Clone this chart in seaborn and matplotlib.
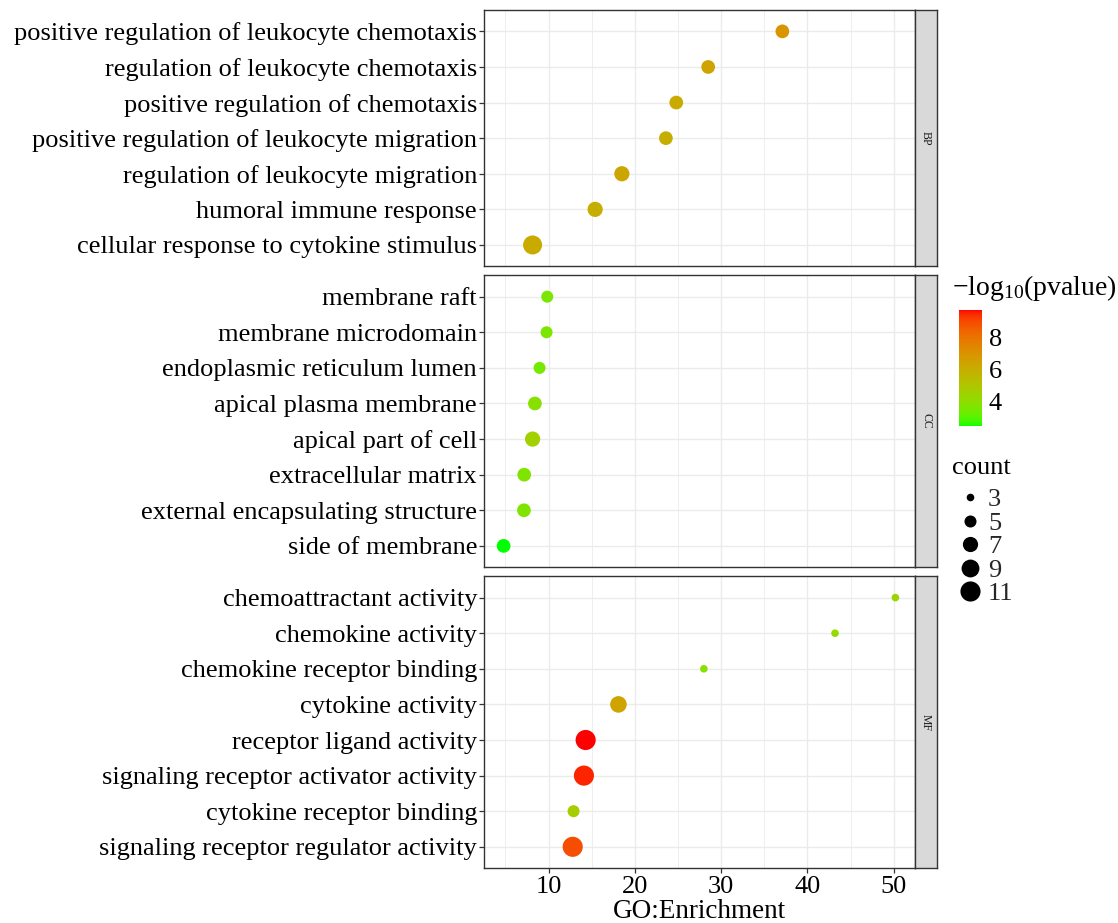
import numpy as np
import pandas as pd
import matplotlib
matplotlib.use("Agg")
import matplotlib.pyplot as plt
from matplotlib.colors import ListedColormap, Normalize
from matplotlib.lines import Line2D
from matplotlib.ticker import MultipleLocator
import seaborn as sns

# ---------------- data (listed top-to-bottom as displayed) ----------------
bp_terms = ["positive regulation of leukocyte chemotaxis",
            "regulation of leukocyte chemotaxis",
            "positive regulation of chemotaxis",
            "positive regulation of leukocyte migration",
            "regulation of leukocyte migration",
            "humoral immune response",
            "cellular response to cytokine stimulus"]
bp_enrich = [37.1, 28.5, 24.8, 23.6, 18.5, 15.4, 8.15]
bp_count = [6, 6, 6, 6, 7, 7, 10]
bp_logp = [6.9, 6.4, 6.1, 6.0, 6.3, 6.0, 6.1]

cc_terms = ["membrane raft",
            "membrane microdomain",
            "endoplasmic reticulum lumen",
            "apical plasma membrane",
            "apical part of cell",
            "extracellular matrix",
            "external encapsulating structure",
            "side of membrane"]
cc_enrich = [9.85, 9.77, 8.96, 8.42, 8.15, 7.18, 7.15, 4.79]
cc_count = [5, 5, 5, 6, 7, 6, 6, 6]
cc_logp = [3.6, 3.6, 3.5, 3.9, 4.6, 3.7, 3.7, 2.5]

mf_terms = ["chemoattractant activity",
            "chemokine activity",
            "chemokine receptor binding",
            "cytokine activity",
            "receptor ligand activity",
            "signaling receptor activator activity",
            "cytokine receptor binding",
            "signaling receptor regulator activity"]
mf_enrich = [50.2, 43.2, 28.0, 18.1, 14.3, 14.1, 12.9, 12.8]
mf_count = [3, 3, 3, 8, 11, 11, 5, 11]
mf_logp = [4.4, 4.2, 3.9, 6.4, 9.7, 9.5, 4.7, 8.9]

facets = ["BP", "CC", "MF"]
count_breaks = [3, 5, 7, 9, 11]
color_breaks = [4, 6, 8]

# ---------------- style ----------------
sns.set_theme(style="white")
plt.rcParams["font.family"] = ["Liberation Serif", "DejaVu Serif"]
plt.rcParams["mathtext.fontset"] = "custom"
plt.rcParams["mathtext.rm"] = "Liberation Serif"
plt.rcParams["mathtext.it"] = "Liberation Serif:italic"

FS = 19


# ---------------- Lab-interpolated green->red gradient (like ggplot) ----------------
def _srgb_to_lab(rgb):
    rgb = np.asarray(rgb, float)
    lin = np.where(rgb <= 0.04045, rgb / 12.92, ((rgb + 0.055) / 1.055) ** 2.4)
    M = np.array([[0.4124564, 0.3575761, 0.1804375],
                  [0.2126729, 0.7151522, 0.0721750],
                  [0.0193339, 0.1191920, 0.9503041]])
    xyz = M @ lin
    xyz = xyz / np.array([0.95047, 1.0, 1.08883])
    f = np.where(xyz > 0.008856, np.cbrt(xyz), 7.787 * xyz + 16 / 116)
    return np.array([116 * f[1] - 16, 500 * (f[0] - f[1]), 200 * (f[1] - f[2])])


def _lab_to_srgb(lab):
    L, a, b = lab
    fy = (L + 16) / 116
    fx = fy + a / 500
    fz = fy - b / 200
    f = np.array([fx, fy, fz])
    xyz = np.where(f ** 3 > 0.008856, f ** 3, (f - 16 / 116) / 7.787)
    xyz = xyz * np.array([0.95047, 1.0, 1.08883])
    Minv = np.array([[3.2404542, -1.5371385, -0.4985314],
                     [-0.9692660, 1.8760108, 0.0415560],
                     [0.0556434, -0.2040259, 1.0572252]])
    lin = np.clip(Minv @ xyz, 0, 1)
    rgb = np.where(lin <= 0.0031308, 12.92 * lin, 1.055 * lin ** (1 / 2.4) - 0.055)
    return np.clip(rgb, 0, 1)


lab_lo = _srgb_to_lab([0.0, 1.0, 0.0])
lab_hi = _srgb_to_lab([1.0, 0.0, 0.0])
cmap = ListedColormap([_lab_to_srgb(lab_lo + (lab_hi - lab_lo) * t)
                       for t in np.linspace(0, 1, 256)])

all_logp = bp_logp + cc_logp + mf_logp
all_enrich = bp_enrich + cc_enrich + mf_enrich
cnorm = Normalize(vmin=min(all_logp), vmax=max(all_logp))

S_MIN, S_MAX = 30, 210
size_norm = (3, 11)


def size_of(c):
    return S_MIN + (S_MAX - S_MIN) * (c - size_norm[0]) / (size_norm[1] - size_norm[0])


# x limits with ggplot-like 5% expansion
xr = max(all_enrich) - min(all_enrich)
xlim = (min(all_enrich) - 0.05 * xr, max(all_enrich) + 0.05 * xr)

# ---------------- figure ----------------
W, H = 1118, 923
fig = plt.figure(figsize=(W / 100, H / 100), dpi=100)

left_px, right_px, strip_px = 484, 915, 937
unit = 35.6
gap = 9
top_px = 10
panels = [(bp_terms, bp_enrich, bp_count, bp_logp),
          (cc_terms, cc_enrich, cc_count, cc_logp),
          (mf_terms, mf_enrich, mf_count, mf_logp)]

y_cur = top_px
axes = []
for i, (terms, enr, cnt, lp) in enumerate(panels):
    n = len(terms)
    h_px = (n - 1 + 1.2) * unit
    rect = [left_px / W, 1 - (y_cur + h_px) / H, (right_px - left_px) / W, h_px / H]
    ax = fig.add_axes(rect)
    df = pd.DataFrame({"term": terms, "enrich": enr, "count": cnt, "logp": lp})
    ax.set_axisbelow(True)
    sns.scatterplot(data=df, x="enrich", y="term", hue="logp", size="count",
                    palette=cmap, hue_norm=cnorm, sizes=(S_MIN, S_MAX),
                    size_norm=size_norm, linewidth=0, legend=False, ax=ax,
                    zorder=3)
    ax.set_ylim(n - 1 + 0.6, -0.6)
    ax.set_xlim(*xlim)
    ax.xaxis.set_major_locator(MultipleLocator(10))
    ax.xaxis.set_minor_locator(MultipleLocator(5))
    ax.grid(which="major", color="#EBEBEB", linewidth=1.0)
    ax.grid(which="minor", axis="x", color="#EBEBEB", linewidth=0.6)
    ax.set_ylabel("")
    ax.set_xlabel("")
    for sp in ax.spines.values():
        sp.set_color("#333333")
        sp.set_linewidth(1.0)
    ax.tick_params(axis="y", which="major", left=True, length=3.5, width=0.9,
                   color="#333333", labelsize=FS, labelcolor="black", pad=1.5)
    ax.tick_params(axis="x", which="minor", bottom=False)
    if i < 2:
        ax.tick_params(axis="x", which="major", bottom=False, labelbottom=False)
    else:
        ax.tick_params(axis="x", which="major", bottom=True, length=3.5, width=0.9,
                       color="#333333", labelsize=FS, labelcolor="black", pad=2)
        ax.set_xlabel("GO:Enrichment", fontsize=19.5, color="black", labelpad=1)
    # strip
    sax = fig.add_axes([right_px / W, rect[1], (strip_px - right_px) / W, rect[3]])
    sax.set_facecolor("#D9D9D9")
    sax.set_xticks([])
    sax.set_yticks([])
    for sp in sax.spines.values():
        sp.set_color("#333333")
        sp.set_linewidth(1.0)
    sax.text(0.5, 0.5, facets[i], rotation=-90, ha="center", va="center",
             fontsize=8.5, color="#1A1A1A", transform=sax.transAxes)
    axes.append(ax)
    y_cur += h_px + gap

# ---------------- colour legend ----------------
fig.text(952 / W, 1 - 288 / H, r"$-\mathrm{log}_{10}$(pvalue)", fontsize=20,
         ha="left", va="center", color="black")
cax = fig.add_axes([959 / W, 1 - 426 / H, 23 / W, 116 / H])
sm = plt.cm.ScalarMappable(norm=cnorm, cmap=cmap)
cb = fig.colorbar(sm, cax=cax, ticks=color_breaks)
cb.outline.set_visible(False)
cax.tick_params(axis="y", which="both", direction="in", length=4.5, width=0.8,
                color="white", left=True, right=True, labelsize=FS,
                labelcolor="black", pad=5)
cax.yaxis.set_ticks_position("both")
cax.tick_params(labelleft=False, labelright=True)

# ---------------- size legend ----------------
fig.text(952 / W, 1 - 468 / H, "count", fontsize=FS, ha="left", va="center",
         color="black")
handles = [Line2D([], [], linestyle="", marker="o", color="black",
                  markeredgewidth=0, markersize=np.sqrt(size_of(c)))
           for c in count_breaks]
leg = fig.legend(handles, [str(c) for c in count_breaks], loc="upper left",
                 bbox_to_anchor=(955 / W, 1 - 488 / H), frameon=False,
                 fontsize=FS, handletextpad=0.15, labelspacing=0.0,
                 borderpad=0, handlelength=1.1, borderaxespad=0)

fig.savefig("out.png", dpi=100)
